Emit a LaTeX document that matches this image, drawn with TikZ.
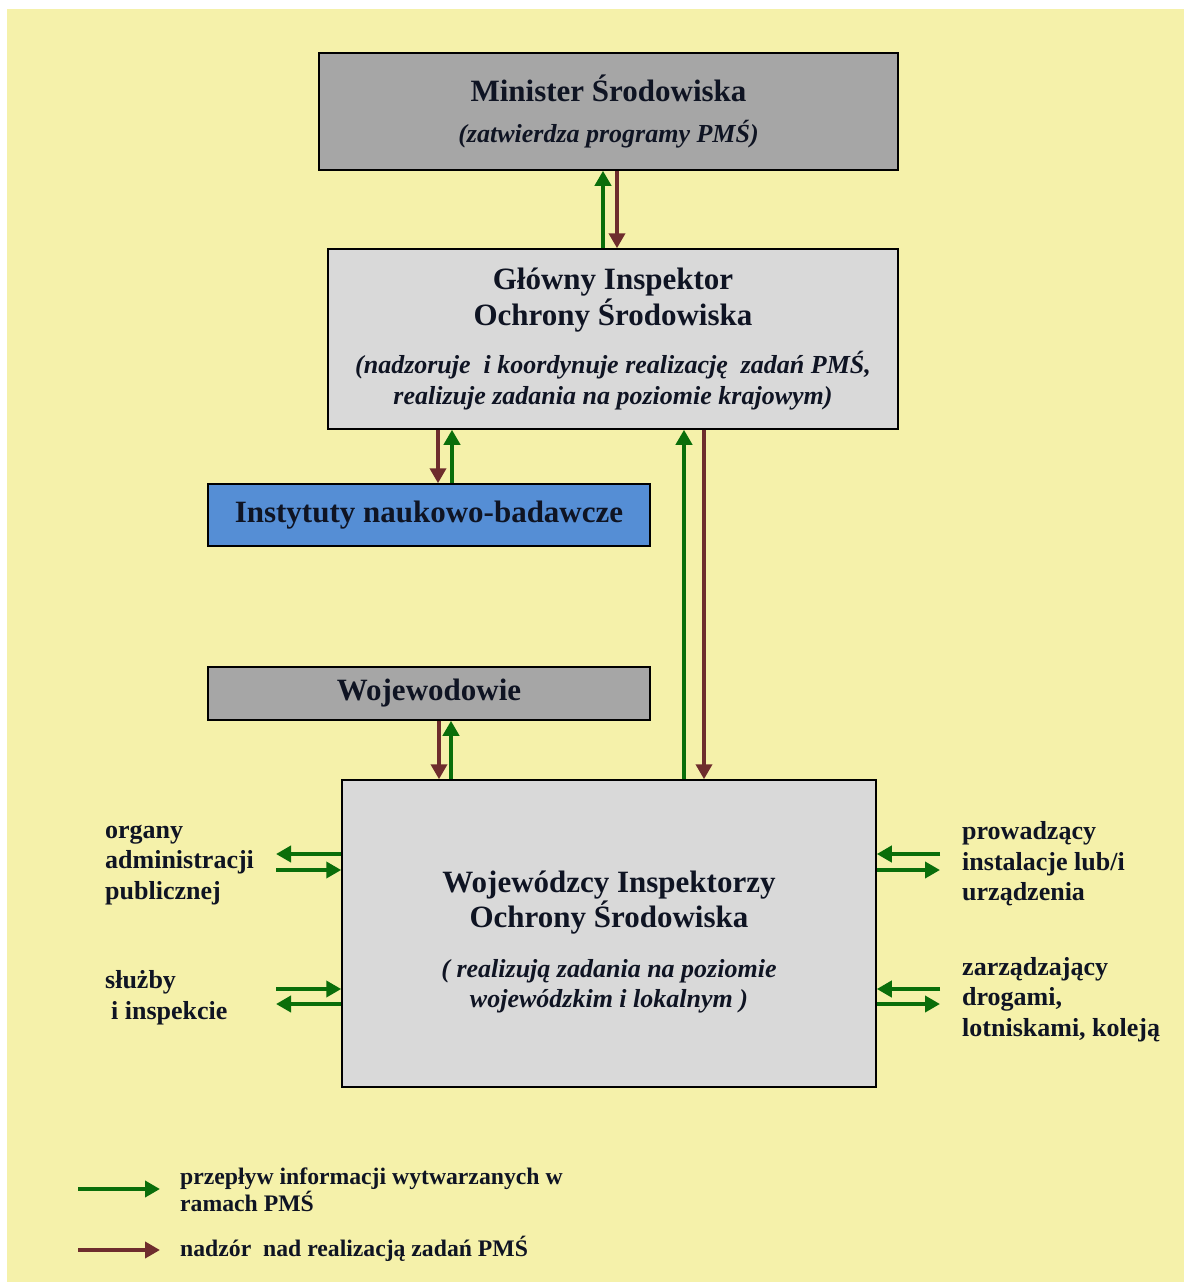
\documentclass[tikz,border=0pt]{standalone}
\usepackage{fontspec}
\setmainfont{Liberation Serif}
\usetikzlibrary{arrows.meta, positioning}

\definecolor{bgyellow}{RGB}{245,241,170}
\definecolor{boxgray}{RGB}{166,166,166}
\definecolor{boxlight}{RGB}{217,217,217}
\definecolor{boxblue}{RGB}{85,142,213}
\definecolor{infogreen}{RGB}{10,110,10}
\definecolor{supbrown}{RGB}{110,45,45}
\definecolor{inkblack}{RGB}{15,20,35}

\newcommand{\hd}{\fontsize{31}{36}\selectfont\bfseries}
\newcommand{\sbt}{\fontsize{26}{31}\selectfont\bfseries\itshape}

\tikzset{
  box/.style   ={draw, line width=1.5pt, rectangle, align=center, inner sep=0pt, text=inkblack, font=\hd},
  info/.style  ={-{Triangle[length=15pt, width=16pt]}, line width=4.2pt, infogreen},
  superv/.style={-{Triangle[length=15pt, width=16pt]}, line width=4.2pt, supbrown},
  side/.style  ={anchor=west, align=left, inner sep=0pt, text=inkblack, font=\fontsize{26}{30.5}\selectfont\bfseries},
  legend/.style={anchor=west, align=left, inner sep=0pt, text=inkblack, font=\fontsize{23.7}{27}\selectfont\bfseries},
}

\begin{document}
\begin{tikzpicture}[x=1pt, y=-1pt]

\useasboundingbox (0,0) rectangle (1184,1282);
\fill [white   ] (0,0) rectangle (1184,1282);
\fill [bgyellow] (7,9) rectangle (1184,1282);

% boxes
\node [box, fill=boxgray , minimum width=579pt, minimum height=117pt] (min)  at (608.5,111.5)
      {Minister Środowiska\\[5pt] \sbt (zatwierdza programy PMŚ)};
\node [box, fill=boxlight, minimum width=570pt, minimum height=180pt] (gios) at (613,339)
      {Główny Inspektor\\ Ochrony Środowiska\\[12pt]
       \sbt (nadzoruje\ \ i koordynuje realizację\ \ zadań PMŚ,\\[-5pt] \sbt realizuje zadania na poziomie krajowym)};
\node [box, fill=boxblue , minimum width=442pt, minimum height=62pt ] (inst) at (429,515)
      {Instytuty naukowo-badawcze};
\node [box, fill=boxgray , minimum width=442pt, minimum height=53pt ] (woj)  at (429,693.5)
      {Wojewodowie};
\node [box, fill=boxlight, minimum width=534pt, minimum height=307pt] (wios) at (609,933.5) {};
\node [align=center, text=inkblack, font=\hd] (wiostxt) at (609,942)
      {Wojewódzcy Inspektorzy\\[-1pt] Ochrony Środowiska\\[14pt]
       \sbt ( realizują zadania na poziomie\\[-6pt] \sbt wojewódzkim i lokalnym )};

% side labels
\node [side] (org)  at (105,865)   {organy\\administracji\\publicznej};
\node [side] (sluz) at (105,997.5) {służby\\\hspace{6pt}i inspekcie};
\node [side] (prow) at (962,864)   {prowadzący\\instalacje lub/i\\urządzenia};
\node [side] (zarz) at (962,999.5) {zarządzający\\drogami,\\lotniskami, koleją};

% free ends of side arrows
\coordinate (orgA)  at (276,854);
\coordinate (orgB)  at (276,870);
\coordinate (sluzA) at (276,989);
\coordinate (sluzB) at (276,1004);
\coordinate (prowA) at (940,854);
\coordinate (prowB) at (940,870);
\coordinate (zarzA) at (940,989);
\coordinate (zarzB) at (940,1004);

% minister <-> gios
\draw [info  ] (gios.north -| 603,0) -- (min.south  -| 603,0);
\draw [superv] (min.south  -| 617,0) -- (gios.north -| 617,0);

% gios <-> instytuty
\draw [superv] (gios.south -| 438,0) -- (inst.north -| 438,0);
\draw [info  ] (inst.north -| 452,0) -- (gios.south -| 452,0);

% gios <-> wios
\draw [info  ] (wios.north -| 684,0) -- (gios.south -| 684,0);
\draw [superv] (gios.south -| 704,0) -- (wios.north -| 704,0);

% wojewodowie <-> wios
\draw [superv] (woj.south  -| 439,0) -- (wios.north -| 439,0);
\draw [info  ] (wios.north -| 451,0) -- (woj.south  -| 451,0);

% left side
\draw [info] (wios.west |- orgA) -- (orgA);
\draw [info] (orgB) -- (wios.west |- orgB);
\draw [info] (sluzA) -- (wios.west |- sluzA);
\draw [info] (wios.west |- sluzB) -- (sluzB);

% right side
\draw [info] (prowA) -- (wios.east |- prowA);
\draw [info] (wios.east |- prowB) -- (prowB);
\draw [info] (zarzA) -- (wios.east |- zarzA);
\draw [info] (wios.east |- zarzB) -- (zarzB);

% legend
\coordinate (legA1) at (78,1189);
\coordinate (legA2) at (160,1189);
\coordinate (legB1) at (78,1250);
\coordinate (legB2) at (160,1250);
\draw [info  ] (legA1) -- (legA2);
\draw [superv] (legB1) -- (legB2);
\node [legend] (legA) at (180,1189.5) {przepływ informacji wytwarzanych w\\ramach PMŚ};
\node [legend] (legB) at (180,1249)   {nadzór\ \ nad realizacją zadań PMŚ};

\end{tikzpicture}
\end{document}
